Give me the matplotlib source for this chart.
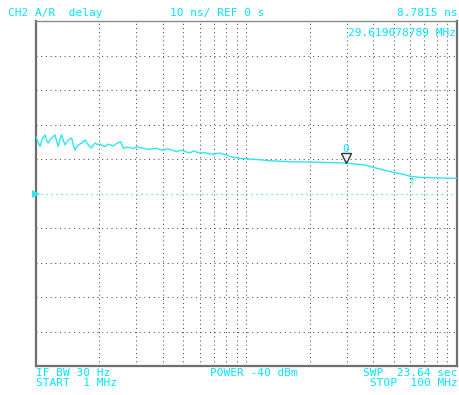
import matplotlib
matplotlib.use("Agg")
import matplotlib.pyplot as plt
import matplotlib.transforms as mtransforms

# ---- data (frequency in MHz, group delay in ns) ----
freq_mhz = [1.000, 1.022, 1.045, 1.070, 1.104, 1.125, 1.144, 1.165, 1.187, 1.210,
            1.231, 1.255, 1.276, 1.300, 1.325, 1.350, 1.373, 1.400, 1.423, 1.450,
            1.477, 1.505, 1.532, 1.560, 1.588, 1.620, 1.649, 1.680, 1.709, 1.740,
            1.772, 1.805, 1.839, 1.870, 1.907, 1.960, 2.014, 2.070, 2.127, 2.165,
            2.206, 2.270, 2.329, 2.380, 2.433, 2.480, 2.526, 2.598, 2.700, 2.796,
            2.900, 3.009, 3.120, 3.234, 3.350, 3.480, 3.610, 3.745, 3.880, 4.026,
            4.180, 4.331, 4.500, 4.661, 4.830, 5.010, 5.200, 5.390, 5.589, 5.800,
            6.014, 6.240, 6.471, 6.700, 6.957, 7.200, 7.483, 7.760, 8.054,
            8.35, 9.31, 10.97, 12.93, 16.09, 20.70, 27.8, 29.62, 36.3,
            40.5, 46.9, 54.2, 60.9, 69.2, 100.0]
delay_ns = [16.4, 15.0, 13.6, 15.8, 17.0, 15.2, 14.6, 15.6, 16.1, 16.6,
            17.0, 15.0, 13.6, 15.9, 17.0, 15.3, 14.1, 14.9, 15.5, 15.8,
            16.1, 14.0, 12.6, 13.5, 14.1, 14.4, 14.6, 15.1, 15.5, 14.8,
            14.1, 13.5, 13.2, 14.0, 14.6, 14.2, 14.3, 13.9, 13.6, 14.0,
            14.3, 14.0, 13.8, 14.2, 14.6, 14.8, 15.0, 13.1, 13.4, 13.3,
            13.0, 13.6, 13.3, 13.1, 12.9, 12.8, 13.0, 13.1, 12.7, 12.6,
            12.9, 12.8, 12.4, 12.1, 12.5, 12.4, 12.0, 11.8, 12.3, 12.0,
            11.7, 11.9, 11.7, 11.5, 11.4, 11.6, 11.7, 11.4, 11.2,
            10.7, 10.2, 9.9, 9.5, 9.2, 9.1, 8.9, 8.78, 8.3,
            7.5, 6.5, 5.7, 4.9, 4.6, 4.4]

marker_freq = 29.619078789
marker_value = 8.7815
marker2_freq = 60.9
marker2_value = 4.9

start_mhz, stop_mhz = 1, 100
scale_ns, ref_ns = 10, 0
grid_freqs = [2, 3, 4, 5, 6, 7, 8, 9, 10, 20, 30, 40, 50, 60, 70, 80, 90]

header_left = "CH2 A/R  delay"
header_mid = "10 ns/ REF 0 s"
header_right = "8.7815 ns"
marker_text = "29.619078789 MHz"
foot_l1 = "IF BW 30 Hz"
foot_l2 = "START  1 MHz"
foot_mid = "POWER -40 dBm"
foot_r1 = "SWP  23.64 sec"
foot_r2 = "STOP  100 MHz"

# ---- style ----
CYAN_TXT = "#00e4ff"
CYAN_TR = "#2ee6f0"
GRID = "#505050"
FRAME = "#6e6e6e"
FONT = "DejaVu Sans Mono"
FS = 8

fig = plt.figure(figsize=(4.6, 3.95), dpi=100)
fig.patch.set_facecolor("white")
ax = fig.add_axes([36/460, 29/395, 421/460, 345/395])
ax.set_xscale("log")
ax.set_xlim(start_mhz, stop_mhz)
ax.set_ylim(ref_ns - 5*scale_ns, ref_ns + 5*scale_ns)
ax.set_xticks([])
ax.set_yticks([])
ax.minorticks_off()
ax.tick_params(which="both", length=0, labelbottom=False, labelleft=False)

for s in ["left", "right", "bottom"]:
    ax.spines[s].set_color(FRAME)
    ax.spines[s].set_linewidth(1.6)
ax.spines["top"].set_color("#8a8a8a")
ax.spines["top"].set_linewidth(1.0)

# grid
for g in grid_freqs:
    ax.axvline(g, color=GRID, lw=0.75, ls=(0, (1, 3)), zorder=1)
for k in range(-4, 5):
    if k == 0:
        continue
    ax.axhline(ref_ns + k*scale_ns, color=GRID, lw=0.75, ls=(0, (1, 3.5)), zorder=1)

# reference line and marker
ax.axhline(ref_ns, color=CYAN_TR, lw=0.9, ls=(0, (1, 3)), zorder=2)
ax.plot([0.0], [ref_ns], marker=">", color=CYAN_TR, markersize=5.5,
        transform=mtransforms.blended_transform_factory(ax.transAxes, ax.transData),
        clip_on=False, zorder=5, markeredgewidth=0)

# trace
ax.plot(freq_mhz, delay_ns, color=CYAN_TR, lw=1.0, zorder=3)

# marker triangle and label
tri_tr = mtransforms.offset_copy(ax.transData, fig=fig, x=0, y=3.4, units="points")
ax.plot([marker_freq], [marker_value], marker="v", markersize=6.5,
        markerfacecolor="white", markeredgecolor="#333333", markeredgewidth=1.0,
        transform=tri_tr, zorder=6, clip_on=False)
lab_tr = mtransforms.offset_copy(ax.transData, fig=fig, x=0, y=10.5, units="points")
ax.text(marker_freq, marker_value, "0", transform=lab_tr, color=CYAN_TXT,
        fontsize=8, family=FONT, ha="center", va="center", zorder=6)
# second marker arrow
arr_tr = mtransforms.offset_copy(ax.transData, fig=fig, x=0, y=-4, units="points")
ax.text(marker2_freq, marker2_value, "\u2191", transform=arr_tr, color=CYAN_TR,
        fontsize=7, family="DejaVu Sans", ha="center", va="center", zorder=6)

# texts
def ftxt(x, y, s, ha="left"):
    fig.text(x/460, 1 - y/395, s, color=CYAN_TXT, fontsize=FS, family=FONT,
             ha=ha, va="center")

ftxt(8, 13, header_left)
ftxt(170, 13, header_mid)
ftxt(458, 13, header_right, ha="right")
ftxt(456, 33, marker_text, ha="right")
ftxt(36, 373, foot_l1)
ftxt(36, 383, foot_l2)
ftxt(210, 373, foot_mid)
ftxt(458, 373, foot_r1, ha="right")
ftxt(458, 383, foot_r2, ha="right")

fig.savefig("out.png", dpi=100)
